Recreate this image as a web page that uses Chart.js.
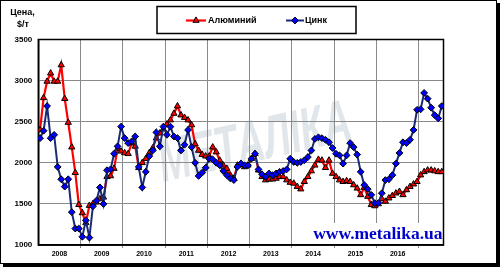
<!DOCTYPE html>
<html>
<head>
<meta charset="utf-8">
<script src="https://cdn.jsdelivr.net/npm/chart.js@4.4.1/dist/chart.umd.min.js"></script>
<style>
    body { margin: 0; background: #fff; }
    #frame { position: absolute; left: 0; top: 0; width: 495px; height: 262px; border: 1px solid #000; box-shadow: 3px 3px 0 0 #000; }
    #wrap { position: absolute; left: 0; top: 0; width: 500px; height: 267px; }
</style>
</head>
<body>
<div id="frame"></div>
<div id="wrap"><canvas id="chart" width="500" height="267"></canvas></div>
<script>
// Year labels under the x axis, one per 12 monthly points (Jan 2008 .. Jul 2017)
const years = ['2008', '2009', '2010', '2011', '2012', '2013', '2014', '2015', '2016'];
const yTicks = [1000, 1500, 2000, 2500, 3000, 3500];

// Monthly prices, $/t
const aluminium = [
    2400, 2790, 2990, 3090, 2990, 2990, 3190, 2780, 2490, 2190, 1880, 1490,
    1390, 1270, 1480, 1500, 1520, 1560, 1580, 1830, 1840, 1930, 2170, 2140,
    2120, 2110, 2240, 2200, 1940, 2000, 2050, 2120, 2180, 2300, 2360, 2410,
    2470, 2520, 2600, 2690, 2580, 2550, 2520, 2460, 2230, 2150, 2100, 2080,
    2080, 2190, 2130, 2030, 1970, 1930, 1850, 1810, 1970, 1990, 1950, 1970,
    2050, 2110, 1910, 1830, 1790, 1800, 1800, 1810, 1830, 1830, 1790, 1760,
    1750, 1710, 1680, 1770, 1830, 1900, 1970, 2040, 2030, 1940, 2030, 1870,
    1830, 1790, 1770, 1780, 1770, 1730, 1690, 1610, 1700, 1590, 1490, 1475,
    1500, 1560, 1530, 1570, 1600, 1630, 1650, 1610, 1670, 1710, 1740, 1770,
    1850, 1890, 1910, 1910, 1900, 1890, 1890
];
const zinc = [
    2300, 2390, 2690, 2300, 2340, 1950, 1800, 1710, 1800, 1400, 1200, 1200,
    1100, 1300, 1090, 1470, 1540, 1700, 1500, 1910, 1920, 2110, 2200, 2440,
    2300, 2240, 2260, 2320, 1950, 1700, 1890, 2080, 2150, 2370, 2200, 2440,
    2340, 2440, 2320, 2300, 2150, 2220, 2400, 2190, 2000, 1840, 1880, 1940,
    2050, 2040, 2000, 1970, 1900, 1850, 1810, 1790, 1950, 1990, 1970, 1970,
    2050, 2110, 1920, 1860, 1830, 1870, 1850, 1870, 1890, 1900, 1920, 2050,
    2010, 2000, 2010, 2030, 2070, 2150, 2290, 2310, 2300, 2280, 2250, 2180,
    2110, 2090, 1990, 2090, 2240, 2190, 2100, 1890, 1730, 1680, 1610, 1510,
    1510, 1630, 1790, 1800, 1850, 1990, 2120, 2250, 2240, 2280, 2400, 2645,
    2650, 2850, 2780, 2670, 2580, 2540, 2690
];

const FONT = '"Liberation Sans", Arial, sans-serif';
const GRID = '#8a8a8a';

// x ticks: year boundaries carry the gridlines, year centres carry the labels
function yearTicks() {
    const ticks = [];
    years.forEach((y, k) => {
        ticks.push({ value: k * 12 + 5.5, label: y });
        ticks.push({ value: k * 12 + 11.5, label: '' });
    });
    return ticks;
}
const isBoundary = v => Math.abs(((v + 0.5) % 12)) < 0.01;

// Background decorations, plot frame, url box, caption and legend
const decorPlugin = {
    id: 'decor',
    beforeDraw(chart) {
        const ctx = chart.ctx;
        ctx.save();
        ctx.translate(163, 182);
        ctx.rotate(-0.22);
        ctx.scale(0.64, 1);
        ctx.font = 'italic bold 60px ' + FONT;
        ctx.fillStyle = 'rgba(140, 158, 176, 0.26)';
        ctx.fillText('МЕТАЛІКА', 0, 0);
        ctx.restore();
    },
    beforeDatasetsDraw(chart) {
        const ctx = chart.ctx;
        const a = chart.chartArea;
        ctx.save();
        ctx.fillStyle = '#fff';
        ctx.fillRect(305, 223, a.right - 306, a.bottom - 224);
        ctx.font = 'bold 17.5px "Liberation Serif", "Times New Roman", serif';
        ctx.fillStyle = '#0000cc';
        ctx.textAlign = 'right';
        ctx.textBaseline = 'alphabetic';
        ctx.fillText('www.metalika.ua', a.right - 1, 239);
        ctx.lineWidth = 1.5;
        ctx.strokeStyle = '#000';
        ctx.strokeRect(a.left, a.top, a.right - a.left, a.bottom - a.top);
        ctx.restore();
    },
    afterDraw(chart) {
        const ctx = chart.ctx;
        ctx.save();
        // axis caption
        ctx.font = 'bold 9px ' + FONT;
        ctx.fillStyle = '#000';
        ctx.textAlign = 'center';
        ctx.textBaseline = 'middle';
        ctx.fillText('Цена,', 22.5, 13);
        ctx.fillText('$/т', 23, 25);

        // legend box
        ctx.lineWidth = 1.5;
        ctx.strokeStyle = '#000';
        ctx.strokeRect(157, 6.5, 199, 27);
        const rows = [
            { ds: 0, x0: 186, x1: 206, tx: 208 },
            { ds: 1, x0: 286, x1: 304, tx: 305 }
        ];
        const y = 20.5;
        rows.forEach(r => {
            const ds = chart.data.datasets[r.ds];
            ctx.strokeStyle = ds.borderColor;
            ctx.lineWidth = ds.borderWidth;
            ctx.beginPath();
            ctx.moveTo(r.x0, y);
            ctx.lineTo(r.x1, y);
            ctx.stroke();
            ctx.fillStyle = ds.pointBackgroundColor;
            ctx.strokeStyle = ds.pointBorderColor;
            ctx.lineWidth = ds.pointBorderWidth;
            Chart.helpers.drawPoint(ctx, {
                pointStyle: ds.pointStyle, radius: ds.pointRadius, rotation: 0, borderWidth: ds.pointBorderWidth
            }, (r.x0 + r.x1) / 2, y);
            ctx.fillStyle = '#000';
            ctx.font = 'bold 9px ' + FONT;
            ctx.textAlign = 'left';
            ctx.fillText(ds.label, r.tx, y);
        });
        ctx.restore();
    }
};

const ctx = document.getElementById('chart').getContext('2d');
new Chart(ctx, {
    type: 'line',
    data: {
        datasets: [
            {
                label: 'Алюминий',
                data: aluminium.map((v, i) => ({ x: i, y: v })),
                borderColor: '#ff0000',
                borderWidth: 2.2,
                pointStyle: 'triangle',
                pointRadius: 3.6,
                pointBackgroundColor: '#ff0000',
                pointBorderColor: '#000',
                pointBorderWidth: 1,
                tension: 0,
                order: 2
            },
            {
                label: 'Цинк',
                data: zinc.map((v, i) => ({ x: i, y: v })),
                borderColor: '#1b2a74',
                borderWidth: 2,
                pointStyle: 'rectRot',
                pointRadius: 3.4,
                pointBackgroundColor: '#0000ff',
                pointBorderColor: '#000',
                pointBorderWidth: 1,
                tension: 0,
                order: 1
            }
        ]
    },
    options: {
        responsive: false,
        animation: false,
        devicePixelRatio: 1,
        layout: { padding: { top: 39.5, left: 0, right: 56.5, bottom: 0 } },
        plugins: {
            legend: { display: false },
            tooltip: { enabled: false }
        },
        scales: {
            x: {
                type: 'linear',
                min: -0.5,
                max: aluminium.length - 0.5,
                afterBuildTicks: axis => { axis.ticks = yearTicks(); },
                afterFit: s => { s.height = 22; },
                grid: {
                    color: c => (c.tick && isBoundary(c.tick.value)) ? GRID : 'rgba(0,0,0,0)',
                    tickColor: c => (c.tick && isBoundary(c.tick.value)) ? GRID : 'rgba(0,0,0,0)',
                    lineWidth: 1,
                    tickLength: 3
                },
                border: { color: '#000', width: 1.5 },
                ticks: {
                    autoSkip: false,
                    maxRotation: 0,
                    padding: 2,
                    color: '#000',
                    font: { family: FONT, size: 7, weight: 'bold' },
                    callback: (v, i, ticks) => ticks[i].label
                }
            },
            y: {
                min: 1000,
                max: 3500,
                afterBuildTicks: axis => { axis.ticks = yTicks.map(v => ({ value: v })); },
                afterFit: s => { s.width = 38.3; },
                grid: { color: GRID, lineWidth: 1, drawTicks: false },
                border: { color: '#000', width: 1.5 },
                ticks: {
                    padding: 6,
                    color: '#000',
                    font: { family: FONT, size: 8, weight: 'bold' },
                    callback: v => String(v)
                }
            }
        }
    },
    plugins: [decorPlugin]
});
</script>
</body>
</html>
